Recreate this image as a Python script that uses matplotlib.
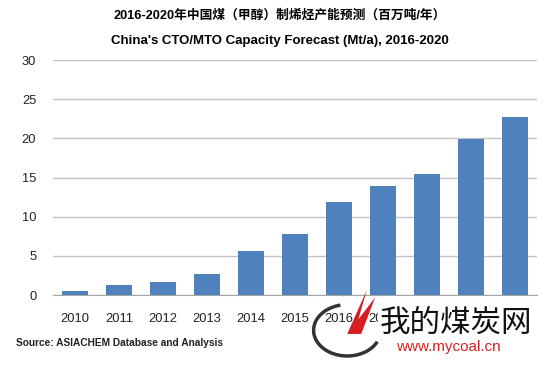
import matplotlib.pyplot as plt
from matplotlib.patches import Arc, Polygon

plt.rcParams['font.family'] = ['Liberation Sans', 'Noto Sans CJK SC', 'DejaVu Sans']

years = ['2010', '2011', '2012', '2013', '2014', '2015',
         '2016', '2017', '2018', '2019', '2020']
capacity = [0.55, 1.3, 1.7, 2.7, 5.6, 7.75, 11.9, 13.95, 15.4, 19.95, 22.7]
y_ticks = [0, 5, 10, 15, 20, 25, 30]

title_cn = '2016-2020年中国煤（甲醇）制烯烃产能预测（百万吨/年）'
title_en = "China's CTO/MTO Capacity Forecast (Mt/a), 2016-2020"
source = 'Source: ASIACHEM Database and Analysis'

fig = plt.figure(figsize=(5.6, 3.67), dpi=100)
ax = fig.add_axes([0.0946, 0.196, 0.864, 0.6405])

ax.bar(range(len(years)), capacity, width=0.58, color='#4F81BD', zorder=3)
ax.set_xlim(-0.5, len(years) - 0.5)
ax.set_ylim(0, 30)
ax.set_yticks(y_ticks)
ax.set_xticks(range(len(years)))
ax.set_xticklabels(years)
ax.grid(axis='y', color='#c4c4c4', linewidth=1.0, zorder=0)
for s in ['top', 'right', 'left']:
    ax.spines[s].set_visible(False)
ax.spines['bottom'].set_color('#a6a6a6')
ax.tick_params(axis='both', length=0, labelsize=9.3, colors='#222222')
ax.tick_params(axis='y', pad=12)
ax.tick_params(axis='x', pad=13)

fig.text(0.5, 0.957, title_cn, ha='center', va='center', fontsize=9.2,
         fontweight='bold', family=['Liberation Sans', 'Noto Sans CJK SC'])
fig.text(0.5, 0.888, title_en, ha='center', va='center', fontsize=9.5,
         fontweight='bold')
fig.text(0.029, 0.065, source, ha='left', va='center', fontsize=7.3,
         fontweight='bold', color='#222222')

# watermark (mycoal.cn), sits over the last tick labels like in the source image
fig.text(0.6786, 0.118, '我的煤炭网', ha='left', va='center', fontsize=22,
         family=['Noto Sans CJK SC'], color='#111111',
         bbox=dict(facecolor='white', edgecolor='none', pad=1))
fig.text(0.708, 0.054, 'www.mycoal.cn', ha='left', va='center', fontsize=11,
         color='#d42020', bbox=dict(facecolor='white', edgecolor='none', pad=0.5))
fig.patches.append(Arc((0.62, 0.1), 0.12, 0.14, theta1=100, theta2=330,
                       transform=fig.transFigure, color='#333333', lw=2.5))
fig.patches.append(Polygon([(0.62, 0.09), (0.655, 0.21), (0.64, 0.13),
                            (0.67, 0.19), (0.645, 0.09)],
                           closed=True, transform=fig.transFigure,
                           facecolor='#d42020', edgecolor='none'))

fig.savefig('out.png', dpi=100)
